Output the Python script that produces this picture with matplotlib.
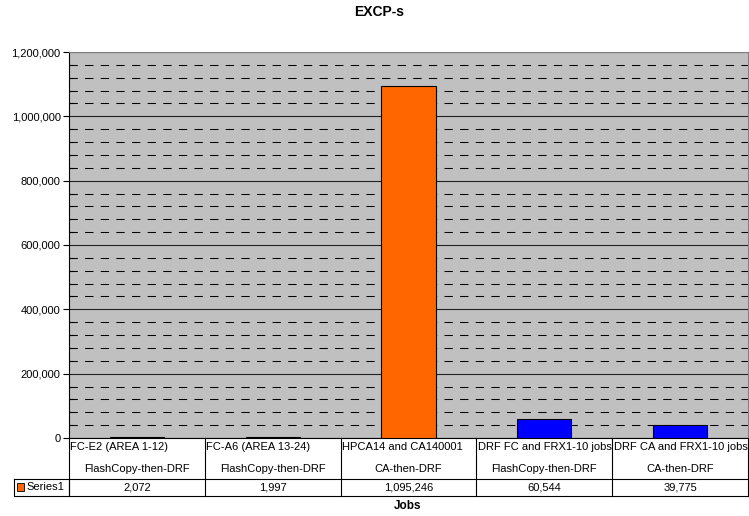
import matplotlib.pyplot as plt
import matplotlib.transforms as mtransforms
import numpy as np

plt.rcParams['font.family'] = ['Liberation Sans', 'DejaVu Sans']

jobs = ['FC-E2 (AREA 1-12)', 'FC-A6 (AREA 13-24)', 'HPCA14 and CA140001',
        'DRF FC and FRX1-10 jobs', 'DRF CA and FRX1-10 jobs']
methods = ['FlashCopy-then-DRF', 'FlashCopy-then-DRF', 'CA-then-DRF',
           'FlashCopy-then-DRF', 'CA-then-DRF']
excps = [2072, 1997, 1095246, 60544, 39775]
bar_colors = ['#FF6600', '#FF6600', '#FF6600', '#0000FF', '#0000FF']
series_name = 'Series1'

fs = 8

fig = plt.figure(figsize=(7.49, 5.16), dpi=100)
ax = fig.add_axes([69 / 749, 78 / 516, 679 / 749, 386 / 516])
ax.set_facecolor('#C0C0C0')

x = np.arange(len(jobs))
ax.bar(x, excps, width=0.4, color=bar_colors, edgecolor='black', linewidth=0.8, zorder=3)

ax.set_xlim(-0.5, len(jobs) - 0.5)
ax.set_ylim(0, 1200000)
ax.set_yticks(np.arange(0, 1200001, 200000))
ax.set_yticks(np.arange(0, 1200001, 40000), minor=True)
ax.yaxis.set_major_formatter(plt.FuncFormatter(lambda v, p: '{:,.0f}'.format(v)))
ax.tick_params(axis='y', which='major', length=4, width=0.8, labelsize=fs, pad=2)
ax.tick_params(axis='y', which='minor', length=3, width=0.8, direction='in')
ax.set_xticks([])

ax.grid(axis='y', which='major', color='#222222', linewidth=0.8, linestyle='-', zorder=1)
ax.grid(axis='y', which='minor', color='black', linewidth=0.75,
        linestyle=(0, (8, 7)), zorder=1)
ax.set_axisbelow(True)

for side in ['top', 'right']:
    ax.spines[side].set_color('#808080')
ax.spines['left'].set_color('black')
ax.spines['bottom'].set_color('black')

fig.text(379 / 749, 1 - 12 / 516, 'EXCP-s', fontsize=10, fontweight='bold',
         ha='center', va='center')

# data table below the plot
trans = mtransforms.blended_transform_factory(ax.transData, ax.transAxes)
y_row1 = -41 / 386
y_row2 = -58 / 386
lw = 0.8
for i in range(len(jobs) + 1):
    xb = i - 0.5
    ax.plot([xb, xb], [0, y_row2], color='black', lw=lw, transform=trans, clip_on=False)
ax.plot([-0.5, len(jobs) - 0.5], [y_row1, y_row1], color='black', lw=lw,
        transform=trans, clip_on=False)
ax.plot([-0.5, len(jobs) - 0.5], [y_row2, y_row2], color='black', lw=lw,
        transform=trans, clip_on=False)

# legend cell
leg_left = (14 - 69) / 679
ax.plot([leg_left, 0, 0, leg_left, leg_left], [y_row1, y_row1, y_row2, y_row2, y_row1],
        color='black', lw=lw, transform=ax.transAxes, clip_on=False)
ax.add_patch(plt.Rectangle(((17 - 69) / 679, -53 / 386), 7 / 679, 8 / 386,
                           facecolor='#FF6600', edgecolor='black', linewidth=0.6,
                           transform=ax.transAxes, clip_on=False))
ax.text((26 - 69) / 679, (y_row1 + y_row2) / 2, series_name, fontsize=fs,
        ha='left', va='center', transform=ax.transAxes)

for i in range(len(jobs)):
    ax.text(i - 0.5 + 0.01, -9 / 386, jobs[i], fontsize=fs, ha='left', va='center',
            transform=trans)
    ax.text(i, -31 / 386, methods[i], fontsize=fs, ha='center', va='center',
            transform=trans)
    ax.text(i, (y_row1 + y_row2) / 2, '{:,}'.format(excps[i]), fontsize=fs,
            ha='center', va='center', transform=trans)

ax.text((408 - 69) / 679, -68 / 386, 'Jobs', fontsize=8.5, fontweight='bold',
        ha='center', va='center', transform=ax.transAxes)

fig.savefig('out.png', dpi=100)
